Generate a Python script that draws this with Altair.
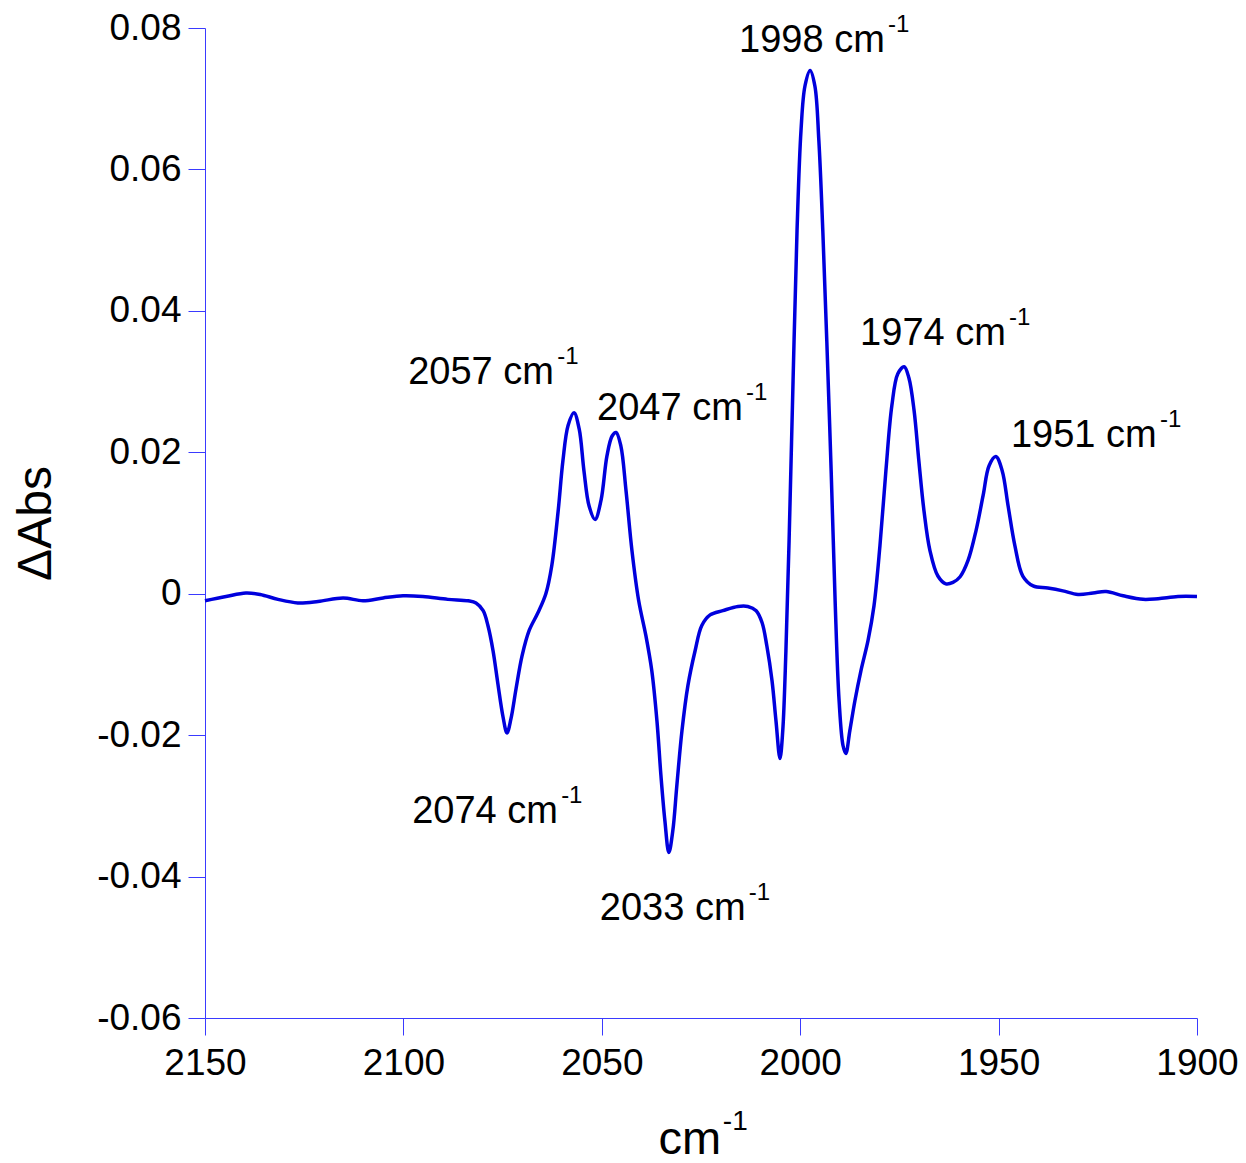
import altair as alt
import pandas as pd

# ---- spectrum (wavenumber in cm-1, delta absorbance) ----
wavenumber = [2150.0, 2144.7, 2139.7, 2136.1, 2131.6, 2126.6, 2121.5, 2115.2, 2110.2, 2105.1,
              2100.1, 2095.1, 2088.8, 2083.7, 2081.7, 2079.9, 2078.7, 2077.4, 2076.2, 2074.9,
              2073.9, 2072.9, 2071.6, 2070.1, 2068.3, 2066.1, 2064.1, 2062.6, 2061.0, 2059.8,
              2058.5, 2057.0, 2055.7, 2054.5, 2053.2, 2051.7, 2050.2, 2048.7, 2047.4, 2046.4,
              2045.2, 2043.9, 2042.4, 2040.7, 2038.9, 2037.4, 2036.1, 2035.1, 2034.1, 2033.1,
              2032.1, 2031.1, 2029.8, 2028.3, 2026.5, 2024.8, 2022.7, 2019.5, 2015.7, 2013.2,
              2011.1, 2009.6, 2008.4, 2007.1, 2006.1, 2005.1, 2004.4, 2003.6, 2002.8, 2001.8,
              2000.8, 1999.8, 1998.8, 1997.5, 1996.3, 1995.3, 1994.3, 1993.3, 1992.2, 1991.2,
              1990.2, 1989.2, 1988.5, 1987.5, 1986.2, 1984.7, 1982.9, 1981.4, 1979.9, 1978.4,
              1976.9, 1975.4, 1973.8, 1972.6, 1971.3, 1970.1, 1968.8, 1967.3, 1965.3, 1963.3,
              1961.5, 1959.7, 1957.7, 1955.7, 1953.9, 1952.4, 1950.7, 1949.1, 1947.6, 1945.9,
              1943.9, 1941.3, 1937.6, 1933.8, 1930.0, 1926.2, 1922.9, 1918.6, 1913.6, 1909.8,
              1904.8, 1900.0]
delta_abs = [-0.0010, -0.0004, 0.0001, -0.0001, -0.0008, -0.0013, -0.0011, -0.0006, -0.0010, -0.0006,
             -0.0003, -0.0004, -0.0008, -0.0010, -0.0013, -0.0024, -0.0045, -0.0081, -0.0127, -0.0174,
             -0.0197, -0.0177, -0.0134, -0.0088, -0.0052, -0.0027, 0.0000, 0.0040, 0.0117, 0.0188,
             0.0238, 0.0256, 0.0233, 0.0174, 0.0124, 0.0105, 0.0132, 0.0195, 0.0223, 0.0228,
             0.0209, 0.0146, 0.0061, -0.0010, -0.0059, -0.0109, -0.0180, -0.0257, -0.0321, -0.0366,
             -0.0335, -0.0272, -0.0194, -0.0130, -0.0081, -0.0045, -0.0030, -0.0024, -0.0018, -0.0018,
             -0.0024, -0.0041, -0.0074, -0.0123, -0.0180, -0.0233, -0.0194, -0.0081, 0.0075, 0.0301,
             0.0513, 0.0655, 0.0718, 0.0740, 0.0718, 0.0641, 0.0513, 0.0358, 0.0174, -0.0010,
             -0.0151, -0.0215, -0.0226, -0.0194, -0.0151, -0.0109, -0.0066, -0.0017, 0.0068, 0.0174,
             0.0266, 0.0311, 0.0321, 0.0305, 0.0259, 0.0188, 0.0117, 0.0061, 0.0025, 0.0014,
             0.0016, 0.0024, 0.0047, 0.0089, 0.0139, 0.0181, 0.0194, 0.0174, 0.0124, 0.0068,
             0.0025, 0.0011, 0.0008, 0.0004, -0.0001, 0.0001, 0.0003, -0.0003, -0.0008, -0.0007,
             -0.0004, -0.0004]

# ---- peak annotations (left edge / baseline in data units) ----
label_text = ["2057 cm", "2047 cm", "1998 cm", "1974 cm", "1951 cm", "2074 cm", "2033 cm"]
label_x = [2098.8, 2051.2, 2015.4, 1984.9, 1946.9, 2097.8, 2050.5]
label_y = [0.0296, 0.0246, 0.0766, 0.0352, 0.0208, -0.0324, -0.0461]
sup_text = "-1"

# axis title superscript position (data units)
title_sup_x = [2019.5]
title_sup_y = [-0.0758]

x_ticks = [2150, 2100, 2050, 2000, 1950, 1900]
y_ticks = [-0.06, -0.04, -0.02, 0, 0.02, 0.04, 0.06, 0.08]

FONT = "Liberation Sans"
LINE = "#0000dd"
AXC = "#3a3aff"

df = pd.DataFrame({"wn": wavenumber, "dabs": delta_abs})
lab = pd.DataFrame({"t": label_text, "x": label_x, "y": label_y, "s": [sup_text] * len(label_text)})
tsup = pd.DataFrame({"x": title_sup_x, "y": title_sup_y, "s": [sup_text]})

xscale = alt.Scale(domain=[1900, 2150], reverse=True, nice=False, zero=False)
yscale = alt.Scale(domain=[-0.06, 0.08], nice=False, zero=False)

y_label_expr = ("datum.value == 0 ? '0' : (datum.value < 0 ? '-' + format(abs(datum.value), '.2f') "
                ": format(datum.value, '.2f'))")

line = alt.Chart(df).mark_line(color=LINE, strokeWidth=3.5, interpolate="catmull-rom").encode(
    x=alt.X("wn:Q", scale=xscale,
            axis=alt.Axis(values=x_ticks, format="d", title="cm", grid=False,
                          domainColor=AXC, tickColor=AXC, domainWidth=1, tickWidth=1, tickSize=17,
                          labelFont=FONT, labelFontSize=37, labelColor="black", labelPadding=10,
                          labelFlush=False, labelOverlap=False,
                          titleFont=FONT, titleFontSize=47, titleFontWeight="normal", titleColor="black",
                          titleX=453, titleY=135, titleAlign="left", titleBaseline="alphabetic")),
    y=alt.Y("dabs:Q", scale=yscale,
            axis=alt.Axis(values=y_ticks, labelExpr=y_label_expr, title="ΔAbs", grid=False,
                          domainColor=AXC, tickColor=AXC, domainWidth=1, tickWidth=1, tickSize=17,
                          labelFont=FONT, labelFontSize=37, labelColor="black", labelPadding=7,
                          labelFlush=False, labelOverlap=False,
                          titleFont=FONT, titleFontSize=48, titleFontWeight="normal", titleColor="black",
                          titleAngle=270, titleX=-155, titleY=495, titleAlign="center",
                          titleBaseline="alphabetic")),
)

labels = alt.Chart(lab).mark_text(font=FONT, fontSize=38, align="left", baseline="alphabetic",
                                  color="black").encode(
    x=alt.X("x:Q", scale=xscale), y=alt.Y("y:Q", scale=yscale), text="t:N")

sups = alt.Chart(lab).mark_text(font=FONT, fontSize=24, align="left", baseline="alphabetic",
                                color="black", dx=149, dy=-20).encode(
    x=alt.X("x:Q", scale=xscale), y=alt.Y("y:Q", scale=yscale), text="s:N")

title_sup = alt.Chart(tsup).mark_text(font=FONT, fontSize=28, align="left", baseline="alphabetic",
                                      color="black").encode(
    x=alt.X("x:Q", scale=xscale), y=alt.Y("y:Q", scale=yscale), text="s:N")

chart = alt.layer(line, labels, sups, title_sup).properties(
    width=992, height=990,
    autosize=alt.AutoSizeParams(type="none"),
    padding={"left": 197, "top": 20, "right": 41, "bottom": 140},
).configure_view(stroke=None)

chart.save("out.html", embed_options={"renderer": "svg", "actions": False})
